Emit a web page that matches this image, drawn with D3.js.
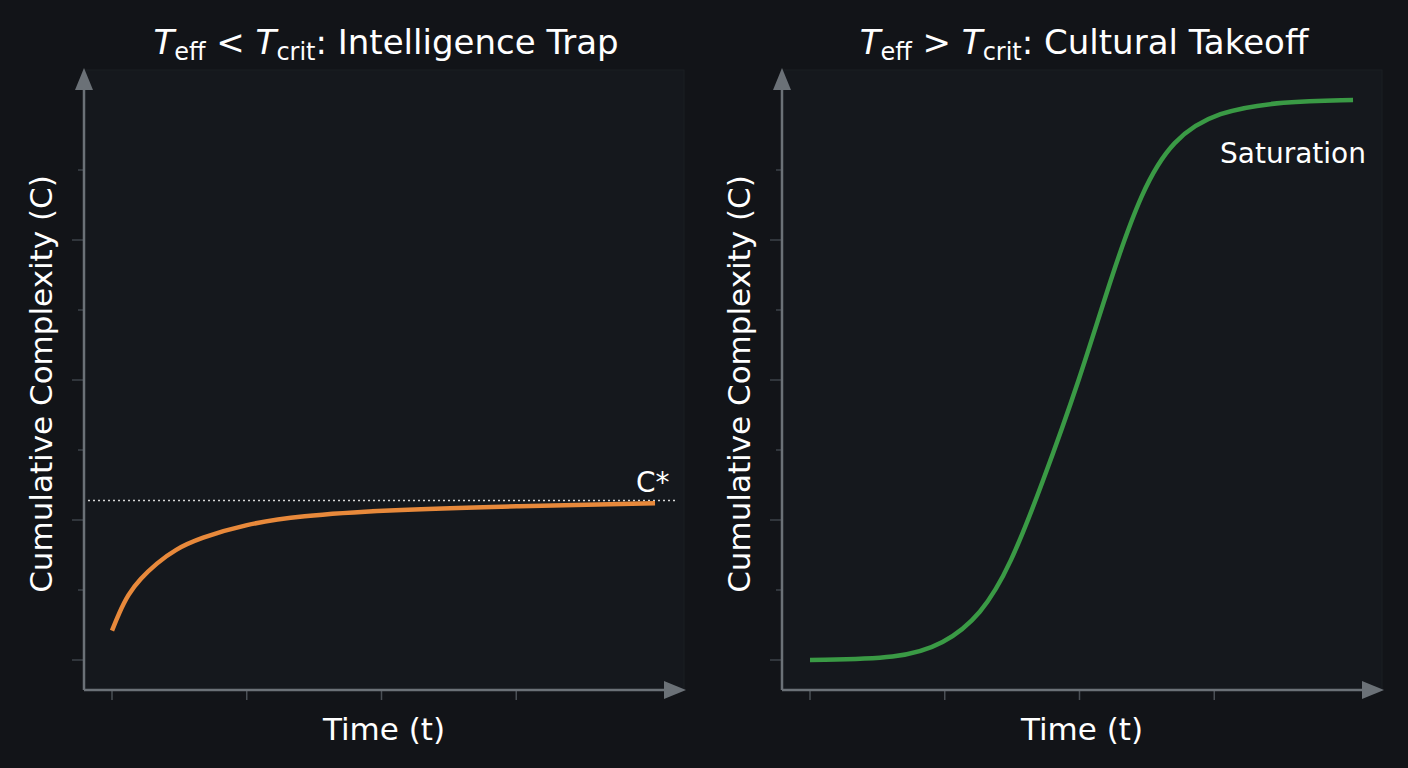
<!DOCTYPE html>
<html><head><meta charset="utf-8">
<script src="https://cdn.jsdelivr.net/npm/d3@7"></script>
<style>body{margin:0;background:#121418;}svg{display:block;font-family:"DejaVu Sans",sans-serif;}</style>
</head><body><svg id="chart" width="1408" height="768"></svg>
<script>
// data
var trapT = [0, 0.05, 0.12, 0.21, 0.33, 0.47, 0.65, 0.99, 1.4, 1.99, 3.0, 4.03];
var trapC = [0.21, 0.33, 0.47, 0.58, 0.69, 0.79, 0.87, 0.97, 1.03, 1.07, 1.1, 1.12];
var cStar = 1.14;
var takeT = [0, 0.67, 0.99, 1.27, 1.49, 1.72, 2.0, 2.24, 2.46, 2.69, 3.02, 3.51, 4.03];
var takeC = [0, 0.01, 0.11, 0.32, 0.68, 1.25, 2.0, 2.75, 3.35, 3.72, 3.92, 3.99, 4.0];
var xTicks = [0, 1, 2, 3];
var yTicks = [0, 0.5, 1, 1.5, 2, 2.5, 3, 3.5];

var svg = d3.select("#chart");
var axisColor = "#6b7177";

function panel(x0, title, ts, cs, color, opts) {
    var g = svg.append("g");
    var left = x0, right = x0 + 600, top = 70, bottom = 690;
    var x = d3.scaleLinear().domain([0, 4]).range([left + 28, left + 567]);
    var y = d3.scaleLinear().domain([0, 4]).range([660, 100]);

    g.append("rect").attr("x", left).attr("y", top).attr("width", 600).attr("height", bottom - top)
        .attr("fill", "#15181d").attr("stroke", "#1b1e23");

    // ticks
    g.selectAll(".yt").data(yTicks).enter().append("line")
        .attr("x1", function(d) { return d % 1 === 0 ? left - 12 : left - 6; })
        .attr("x2", left)
        .attr("y1", function(d) { return y(d); }).attr("y2", function(d) { return y(d); })
        .attr("stroke", "#3d4248").attr("stroke-width", 1.5);
    g.selectAll(".xt").data(xTicks).enter().append("line")
        .attr("x1", function(d) { return x(d); }).attr("x2", function(d) { return x(d); })
        .attr("y1", bottom).attr("y2", bottom + 10)
        .attr("stroke", "#4a4f55").attr("stroke-width", 1.5);

    // axes with arrows
    g.append("line").attr("x1", left).attr("y1", bottom).attr("x2", left).attr("y2", top + 14)
        .attr("stroke", axisColor).attr("stroke-width", 2.5);
    g.append("path").attr("d", "M" + (left - 9) + "," + (top + 20) + "L" + left + "," + (top - 2) + "L" + (left + 9) + "," + (top + 20) + "Z")
        .attr("fill", axisColor);
    g.append("line").attr("x1", left).attr("y1", bottom).attr("x2", right - 14).attr("y2", bottom)
        .attr("stroke", axisColor).attr("stroke-width", 2.5);
    g.append("path").attr("d", "M" + (right - 20) + "," + (bottom - 9) + "L" + (right + 2) + "," + bottom + "L" + (right - 20) + "," + (bottom + 9) + "Z")
        .attr("fill", axisColor);

    if (opts.cStar) {
        g.append("line").attr("x1", left + 4).attr("x2", right - 8)
            .attr("y1", y(cStar)).attr("y2", y(cStar))
            .attr("stroke", "#d8d8d8").attr("stroke-width", 1.5).attr("stroke-dasharray", "2,3");
        g.append("text").attr("x", right - 48).attr("y", y(cStar) - 8).attr("fill", "#fff")
            .attr("font-size", 28).text("C*");
    }

    var line = d3.line().x(function(d) { return x(d[0]); }).y(function(d) { return y(d[1]); })
        .curve(d3.curveBasis);
    g.append("path").datum(d3.zip(ts, cs)).attr("d", line)
        .attr("fill", "none").attr("stroke", color).attr("stroke-width", 4.5);

    if (opts.label) {
        g.append("text").attr("x", right - 162).attr("y", 163).attr("fill", "#fff")
            .attr("font-size", 28).text(opts.label);
    }

    // title
    var tt = g.append("text").attr("x", left + 302).attr("y", 54).attr("text-anchor", "middle")
        .attr("fill", "#fff").attr("font-size", 34);
    tt.append("tspan").attr("font-style", "italic").text("T");
    tt.append("tspan").attr("font-size", 24).attr("dy", 6).text("eff");
    tt.append("tspan").attr("dy", -6).text(" " + opts.op + " ");
    tt.append("tspan").attr("font-style", "italic").text("T");
    tt.append("tspan").attr("font-size", 24).attr("dy", 6).text("crit");
    tt.append("tspan").attr("dy", -6).text(": " + title);

    g.append("text").attr("x", left + 300).attr("y", 740).attr("text-anchor", "middle")
        .attr("fill", "#fff").attr("font-size", 31).text("Time (t)");
    g.append("text").attr("transform", "translate(" + (left - 32) + ",384) rotate(-90)")
        .attr("text-anchor", "middle").attr("fill", "#fff").attr("font-size", 31)
        .text("Cumulative Complexity (C)");
}

panel(84, "Intelligence Trap", trapT, trapC, "#e8893b", { op: "<", cStar: true });
panel(782, "Cultural Takeoff", takeT, takeC, "#3a9a45", { op: ">", label: "Saturation" });
</script></body></html>
